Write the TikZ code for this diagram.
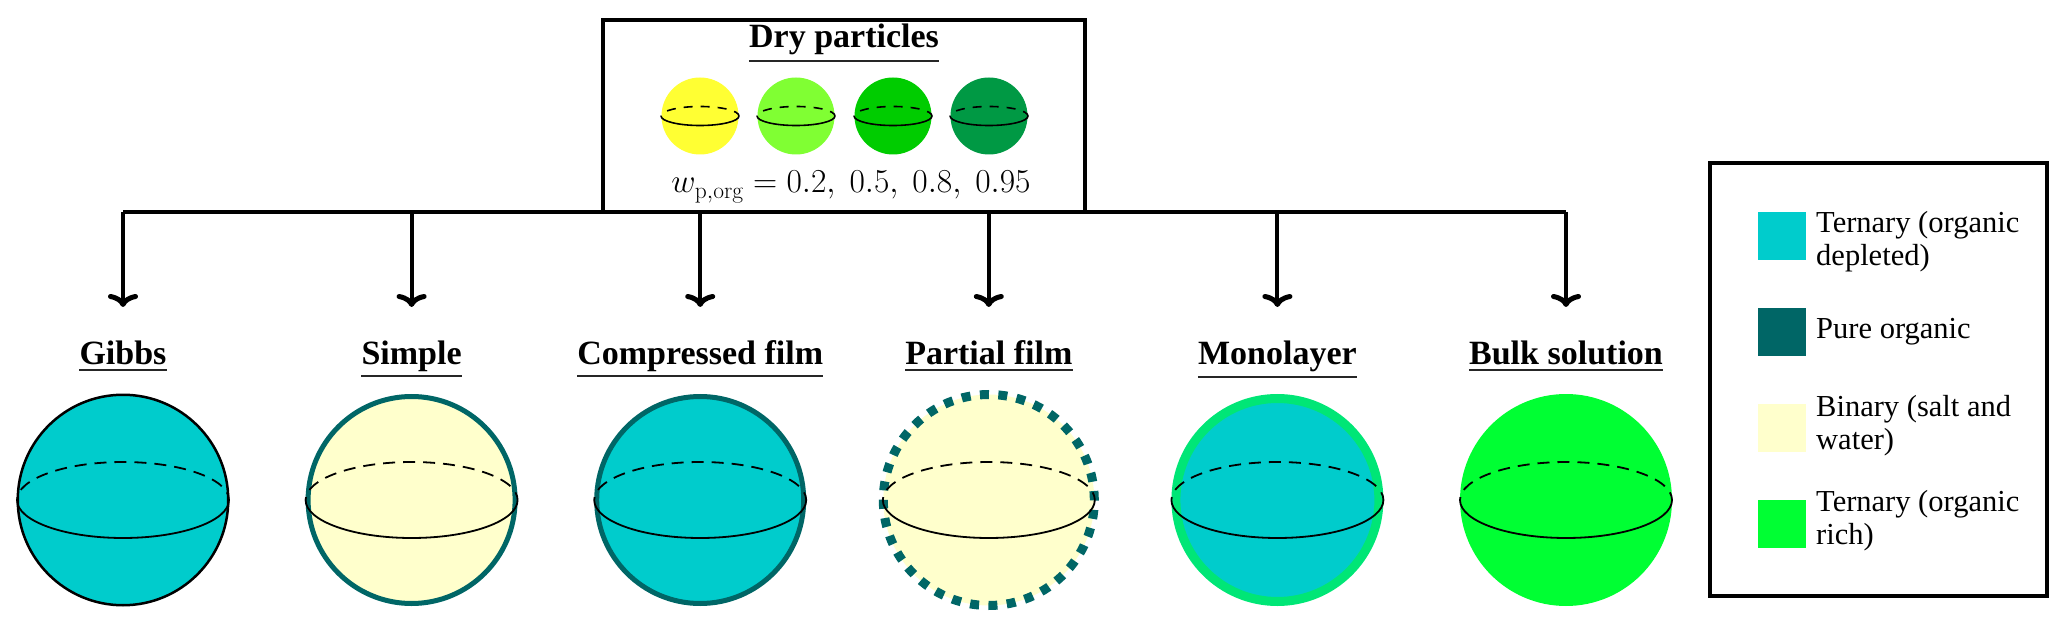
\RequirePackage{fix-cm}
\documentclass[tikz,border=0pt]{standalone}
\usepackage[no-math]{fontspec}
\setmainfont{Liberation Serif}
\usetikzlibrary{arrows.meta}
\definecolor{cyanfill}{HTML}{00CCCC}
\definecolor{tealline}{HTML}{006666}
\definecolor{binfill}{HTML}{FFFFCC}
\definecolor{richfill}{HTML}{00FF33}
\definecolor{monoring}{HTML}{00E676}
\definecolor{dryA}{HTML}{FFFF33}
\definecolor{dryB}{HTML}{80FF33}
\definecolor{dryC}{HTML}{00CC00}
\definecolor{dryD}{HTML}{009944}
\newcommand\equator[5]{%
  \draw[#4,#5] ([xshift=#2]#1.center) arc[start angle=0,end angle=180,x radius=#2,y radius=#3];
  \draw[#4] ([xshift=-#2]#1.center) arc[start angle=180,end angle=360,x radius=#2,y radius=#3];}
\newcommand\uline[1]{\draw[ulinestyle] ([yshift=-5pt]#1.south west) -- ([yshift=-5pt]#1.south east);}
\tikzset{
  frame/.style={draw=black,line width=4pt,inner sep=0pt},
  conn/.style={draw=black,line width=4pt},
  arr/.style={conn,-{Computer Modern Rightarrow[width=30pt,length=13pt,line width=5pt]}},
  ttl/.style={anchor=base,inner sep=0pt,font=\fontsize{34}{40}\selectfont\bfseries},
  ulinestyle/.style={draw=black!85,line width=2pt},
  bigsphere/.style={circle,inner sep=0pt,minimum size=#1},
  smallsphere/.style={circle,inner sep=0pt,minimum size=77pt},
  swatch/.style={rectangle,inner sep=0pt,minimum size=48pt},
  legtext/.style={anchor=north west,inner sep=0pt,align=left,font=\fontsize{30.5}{33.5}\selectfont},
  bigeq/.style={line width=1.8pt},
  smalleq/.style={line width=1.6pt},
}
\begin{document}
\begin{tikzpicture}[x=1pt,y=-1pt]
\useasboundingbox (0,0) rectangle (2067,628);
% top box
\node[frame,minimum width=482pt,minimum height=192pt] (drybox) at (844,116) {};
\node[ttl] (drytitle) at (844,48) {Dry particles};
\uline{drytitle}
\node[smallsphere,fill=dryA] (d1) at (700,116) {};
\node[smallsphere,fill=dryB] (d2) at (796,116) {};
\node[smallsphere,fill=dryC] (d3) at (893,116) {};
\node[smallsphere,fill=dryD] (d4) at (989,116) {};
\foreach \n in {d1,d2,d3,d4}{\equator{\n}{39pt}{9.5pt}{smalleq}{dash pattern=on 9pt off 8pt,dash phase=2pt}}
\node[anchor=base,inner sep=0pt,font=\fontsize{33.5}{40}\selectfont] (wlabel) at (851,193)
  {$w_{\mathrm{p,org}} = 0.2,\ 0.5,\ 0.8,\ 0.95$};
% tree
\foreach \i/\x in {1/123,2/411.6,3/700.2,4/988.8,5/1277.4,6/1566}{
  \coordinate (b\i) at (\x,212);
  \coordinate (a\i) at (\x,307);
}
\draw[conn] (b1) -- (b6);
\foreach \i in {1,...,6}{\draw[arr] (b\i) -- (a\i);}
% titles
\node[ttl] (t1) at (123,364) {Gibbs};
\node[ttl] (t2) at (411.6,364) {Simple};
\node[ttl] (t3) at (700.2,364) {Compressed film};
\node[ttl] (t4) at (988.8,364) {Partial film};
\node[ttl] (t5) at (1277.4,364) {Monolayer};
\node[ttl] (t6) at (1566,364) {Bulk solution};
\foreach \n in {t1,t2,t3,t4,t5,t6}{\uline{\n}}
% spheres
\node[bigsphere=210.5pt,fill=cyanfill,draw=black,line width=2.5pt] (s1) at (123,500) {};
\node[bigsphere=207pt,fill=binfill,draw=tealline,line width=5pt] (s2) at (411.6,500) {};
\node[bigsphere=207pt,fill=cyanfill,draw=tealline,line width=5pt] (s3) at (700.2,500) {};
\node[bigsphere=211pt,fill=binfill,draw=tealline,line width=9pt,dash pattern=on 9pt off 9.4pt] (s4) at (988.8,500) {};
\node[bigsphere=203pt,fill=cyanfill,draw=monoring,line width=9pt] (s5) at (1277.4,500) {};
\node[bigsphere=212pt,fill=richfill] (s6) at (1566,500) {};
\foreach \n in {s1,s2,s3,s4,s5,s6}{\equator{\n}{106pt}{38pt}{bigeq}{dash pattern=on 12pt off 8pt,dash phase=4pt}}
% legend
\node[frame,minimum width=337pt,minimum height=433pt] (legend) at (1878.5,379.5) {};
\node[swatch,fill=cyanfill] (k1) at (1782,236) {};
\node[swatch,fill=tealline] (k2) at (1782,332) {};
\node[swatch,fill=binfill] (k3) at (1782,428) {};
\node[swatch,fill=richfill] (k4) at (1782,524) {};
\node[legtext] (l1) at (1816,211) {Ternary (organic\\depleted)};
\node[legtext] (l2) at (1816,318) {Pure organic};
\node[legtext] (l3) at (1816,395) {Binary (salt and\\water)};
\node[legtext] (l4) at (1816,490) {Ternary (organic\\rich)};
\end{tikzpicture}
\end{document}
